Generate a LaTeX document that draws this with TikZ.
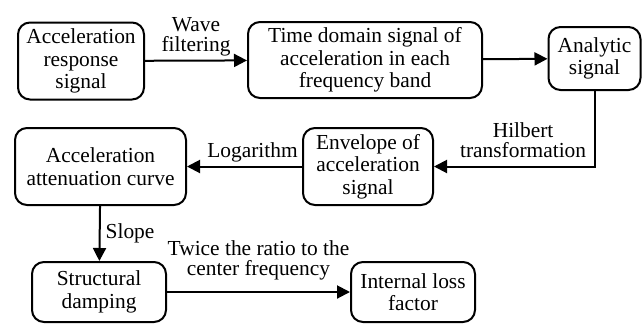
\documentclass[tikz,border=0pt]{standalone}
\usepackage{fontspec}
\setmainfont{Liberation Serif}
\usetikzlibrary{arrows.meta,positioning,calc}

\begin{document}
\begin{tikzpicture}[x=0.5pt, y=-0.5pt,
            font=\fontsize{10.7}{11.2}\selectfont,
            box/.style={draw, line width=1pt, rounded corners=6pt, align=center, inner sep=2pt},
            lbl/.style={align=center, inner sep=1.5pt, font=\fontsize{10.7}{10}\selectfont},
            flow/.style={draw, line width=1pt, -{Triangle[length=6.5pt,width=6.5pt]}}]
        \useasboundingbox (0,0) rectangle (642,323);
        \node[box, minimum width=63pt, minimum height=38.5pt] (accresp) at (81,61) {Acceleration\\response\\signal};
        \node[box, minimum width=117pt, minimum height=38pt] (timesig) at (365,60) {Time domain signal of\\acceleration in each\\frequency band};
        \node[box, minimum width=46pt, minimum height=31.5pt] (analytic) at (594.5,58.5) {Analytic\\signal};
        \node[box, minimum width=65pt, minimum height=38.5pt] (envelope) at (368,166.5) {Envelope of\\acceleration\\signal};
        \node[box, minimum width=85.5pt, minimum height=38.5pt] (attenuation) at (100.5,166.5) {Acceleration\\attenuation curve};
        \node[box, minimum width=67pt, minimum height=30pt] (damping) at (99,292) {Structural\\damping};
        \node[box, minimum width=62pt, minimum height=30pt] (lossfac) at (413,292) {Internal loss\\factor};
        \coordinate (corner) at (analytic.south |- envelope.east);

        \draw[flow] (accresp) -- node[lbl, above] {Wave\\filtering} (timesig);
        \draw[flow] (timesig) -- (analytic);
        \draw[flow] (analytic.south) -- (corner) -- (envelope.east);
        \node[lbl, anchor=south east] at ($(corner)+(-5,-5)$) {Hilbert\\transformation};
        \draw[flow] (envelope) -- node[lbl, above, xshift=4pt] {Logarithm} (attenuation);
        \draw[flow] (attenuation) -- node[lbl, right, xshift=1pt] {Slope} (damping);
        \draw[flow] (damping) -- node[lbl, above, yshift=4pt] {Twice the ratio to the\\center frequency} (lossfac);
        \end{tikzpicture}
\end{document}
